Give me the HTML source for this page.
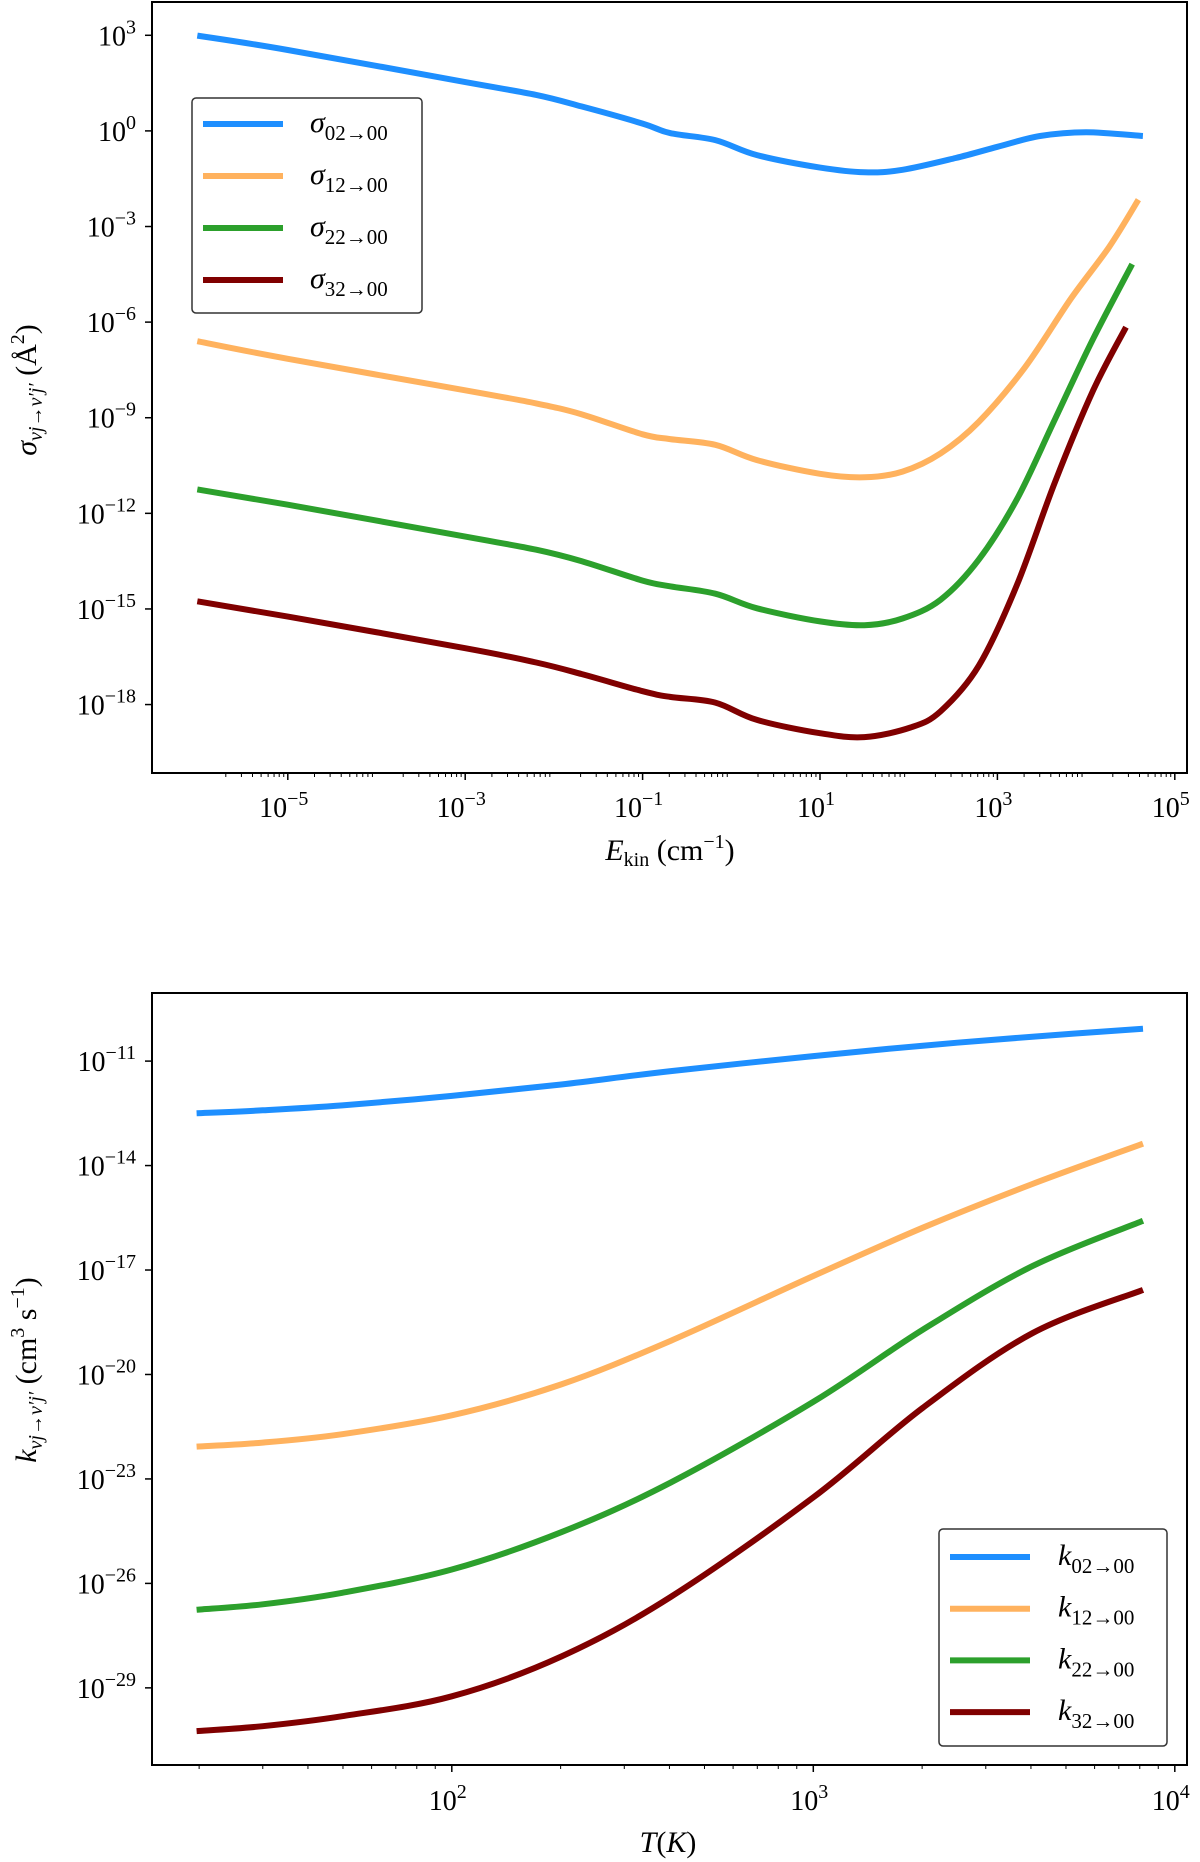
<!DOCTYPE html>
<html><head><meta charset="utf-8"><style>
html,body{margin:0;padding:0;background:#fff}
svg{display:block}
text{font-family:"Liberation Serif","DejaVu Serif",serif;fill:#000}
</style></head><body>
<svg id="fig" width="1200" height="1862" viewBox="0 0 1200 1862"></svg>
<script>
// ---- Top chart data (log10 values) ----
const topLogE = [-6.02,-5,-3,-2.2,-1.69,-1,-0.69,-0.18,0.29,1,1.5,1.93,2.53,3,3.48,4,4.64];
const sig02 = [2.99,2.54,1.53,1.13,0.77,0.23,-0.07,-0.29,-0.76,-1.15,-1.30,-1.22,-0.85,-0.50,-0.16,-0.04,-0.16];
const topLogE2 = [-6.02,-5,-3,-2.2,-1.69,-1,-0.69,-0.18,0.29,1,1.5,1.93,2.36,2.79,3.31,3.83,4.26,4.59];
const sig12 = [-6.6,-7.15,-8.14,-8.55,-8.89,-9.52,-9.67,-9.85,-10.33,-10.76,-10.87,-10.69,-10.12,-9.13,-7.42,-5.26,-3.64,-2.16];
const topLogE3 = [-6.02,-5,-3,-2.2,-1.69,-1,-0.69,-0.18,0.29,1,1.5,1.93,2.36,2.79,3.22,3.65,4.08,4.52];
const sig22 = [-11.25,-11.73,-12.73,-13.14,-13.5,-14.11,-14.29,-14.52,-14.98,-15.39,-15.51,-15.30,-14.71,-13.45,-11.56,-9.04,-6.52,-4.18];
const topLogE4 = [-6.02,-5,-3,-2.2,-1.69,-1,-0.69,-0.18,0.29,1,1.5,2.02,2.36,2.79,3.22,3.65,4.08,4.45];
const sig32 = [-14.76,-15.24,-16.23,-16.68,-17.04,-17.58,-17.76,-17.94,-18.48,-18.9,-19.02,-18.72,-18.21,-16.78,-14.25,-11.01,-8.14,-6.16];
const topXTicks = [-5,-3,-1,1,3,5];
const topYTicks = [3,0,-3,-6,-9,-12,-15,-18];
const topLabels = ["02","12","22","32"];

// ---- Bottom chart data (log10 values) ----
const botLogT = [1.294,1.477,1.697,2,2.303,2.606,3,3.303,3.606,3.912];
const k02 = [-12.5,-12.414,-12.271,-12.0,-11.671,-11.286,-10.857,-10.557,-10.3,-10.071];
const k12 = [-22.071,-21.957,-21.714,-21.171,-20.286,-19.029,-17.171,-15.786,-14.529,-13.371];
const k22 = [-26.757,-26.6,-26.271,-25.6,-24.529,-23.1,-20.786,-18.714,-16.886,-15.586];
const k32 = [-30.243,-30.1,-29.814,-29.243,-28.1,-26.386,-23.529,-20.957,-18.814,-17.571];
const botXTicks = [2,3,4];
const botYTicks = [-11,-14,-17,-20,-23,-26,-29];

const colors = ["#1e8fff","#ffb25e","#2ca02c","#800000"];
const NS = "http://www.w3.org/2000/svg";
const svg = document.getElementById('fig');
function mk(tag, attrs, parent){const e=document.createElementNS(NS,tag);for(const k in attrs)e.setAttribute(k,attrs[k]);(parent||svg).appendChild(e);return e;}

// axis functions
const tx = v => 820 + (v-1)*88.7;
const ty = v => 130.9 - v*31.87;
const bx = v => 451.8 + (v-2)*361.5;
const by = v => 1061.1 - (v+11)*34.82;

function smoothPath(xs, ys){
  const p = xs.map((x,i)=>[x,ys[i]]);
  let d = `M${p[0][0].toFixed(1)},${p[0][1].toFixed(1)}`;
  for(let i=0;i<p.length-1;i++){
    const p0=p[Math.max(i-1,0)],p1=p[i],p2=p[i+1],p3=p[Math.min(i+2,p.length-1)];
    const c1=[p1[0]+(p2[0]-p0[0])/6,p1[1]+(p2[1]-p0[1])/6];
    const c2=[p2[0]-(p3[0]-p1[0])/6,p2[1]-(p3[1]-p1[1])/6];
    d+=`C${c1[0].toFixed(1)},${c1[1].toFixed(1)} ${c2[0].toFixed(1)},${c2[1].toFixed(1)} ${p2[0].toFixed(1)},${p2[1].toFixed(1)}`;
  }
  return d;
}
function tickLabel(x,y,exp,anchor,g){
  const t=mk('text',{x:x,y:y,'font-size':28,'text-anchor':anchor},g);
  const a=document.createElementNS(NS,'tspan');a.textContent='10';t.appendChild(a);
  const b=document.createElementNS(NS,'tspan');b.setAttribute('dy','-12');b.setAttribute('font-size','20');
  b.textContent=(exp<0?'\u2212'+(-exp):''+exp);t.appendChild(b);
  return t;
}

// ===== Top chart =====
const gT = mk('g',{});


const topSeries=[[topLogE,sig02],[topLogE2,sig12],[topLogE3,sig22],[topLogE4,sig32]];
topSeries.forEach((s,i)=>{
  const p=mk('path',{d:smoothPath(s[0].map(tx),s[1].map(ty)),fill:'none',stroke:colors[i],'stroke-width':6,'stroke-linejoin':'round'},gT);
  
  
});
const fT=mk('rect',{x:152,y:2,width:1035,height:771,fill:'none',stroke:'#000','stroke-width':2},gT);


topXTicks.forEach(v=>{
  mk('line',{x1:tx(v),x2:tx(v),y1:773,y2:780,stroke:'#000','stroke-width':1.5},gT);
  const t=tickLabel(tx(v)-4,817,v,'middle',gT);
  
  
});
for(let d=-6;d<5;d++)for(let m=2;m<10;m++){const v=d+Math.log10(m);if(v>-6.3&&v<5.2)mk('line',{x1:tx(v),x2:tx(v),y1:773,y2:777,stroke:'#000','stroke-width':1},gT);}
topYTicks.forEach(v=>{
  mk('line',{x1:145,x2:152,y1:ty(v),y2:ty(v),stroke:'#000','stroke-width':1.5},gT);
  const t=tickLabel(136,ty(v)+10,v,'end',gT);
  
  
});
const xlT=mk('text',{x:670,y:860,'font-size':30,'text-anchor':'middle'},gT);
xlT.innerHTML='<tspan font-style="italic">E</tspan><tspan font-size="20" dy="6">kin</tspan><tspan dy="-6"> (cm</tspan><tspan font-size="20" dy="-12">\u22121</tspan><tspan dy="12">)</tspan>';


const ylT=mk('text',{x:0,y:0,'font-size':30,'text-anchor':'middle',transform:'translate(36,390) rotate(-90)'},gT);
ylT.innerHTML='<tspan font-style="italic">σ</tspan><tspan font-size="20" dy="6" font-style="italic">vj→v′j′</tspan><tspan dy="-6"> (Å</tspan><tspan font-size="20" dy="-12">2</tspan><tspan dy="12">)</tspan>';


const lgT=mk('g',{},gT);


mk('rect',{x:192,y:98,width:230,height:215,rx:4,fill:'#fff',stroke:'#333','stroke-width':1.5},lgT);
topLabels.forEach((l,i)=>{
  const y=124+i*52;
  const e=mk('g',{},lgT);
  
  
  mk('line',{x1:203,x2:283,y1:y,y2:y,stroke:colors[i],'stroke-width':6},e);
  const t=mk('text',{x:310,y:y+8,'font-size':30},e);
  t.innerHTML='<tspan font-style="italic">σ</tspan><tspan font-size="21" dy="8">'+l+'→00</tspan>';
});

// ===== Bottom chart =====
const gB = mk('g',{});


[k02,k12,k22,k32].forEach((s,i)=>{
  const p=mk('path',{d:smoothPath(botLogT.map(bx),s.map(by)),fill:'none',stroke:colors[i],'stroke-width':6,'stroke-linejoin':'round'},gB);
  
  
});
const fB=mk('rect',{x:152,y:993,width:1035,height:772,fill:'none',stroke:'#000','stroke-width':2},gB);


botXTicks.forEach(v=>{
  mk('line',{x1:bx(v),x2:bx(v),y1:1765,y2:1772,stroke:'#000','stroke-width':1.5},gB);
  const t=tickLabel(bx(v)-4,1810,v,'middle',gB);
  
  
});
for(let d=1;d<4;d++)for(let m=2;m<10;m++){const v=d+Math.log10(m);if(v>1.28&&v<4)mk('line',{x1:bx(v),x2:bx(v),y1:1765,y2:1769,stroke:'#000','stroke-width':1},gB);}
botYTicks.forEach(v=>{
  mk('line',{x1:145,x2:152,y1:by(v),y2:by(v),stroke:'#000','stroke-width':1.5},gB);
  const t=tickLabel(136,by(v)+10,v,'end',gB);
  
  
});
const xlB=mk('text',{x:668,y:1852,'font-size':30,'text-anchor':'middle'},gB);
xlB.innerHTML='<tspan font-style="italic">T</tspan>(<tspan font-style="italic">K</tspan>)';


const ylB=mk('text',{x:0,y:0,'font-size':30,'text-anchor':'middle',transform:'translate(36,1370) rotate(-90)'},gB);
ylB.innerHTML='<tspan font-style="italic">k</tspan><tspan font-size="20" dy="6" font-style="italic">vj→v′j′</tspan><tspan dy="-6"> (cm</tspan><tspan font-size="20" dy="-12">3</tspan><tspan dy="12"> s</tspan><tspan font-size="20" dy="-12">\u22121</tspan><tspan dy="12">)</tspan>';


const lgB=mk('g',{},gB);


mk('rect',{x:939,y:1529,width:228,height:217,rx:4,fill:'#fff',stroke:'#333','stroke-width':1.5},lgB);
topLabels.forEach((l,i)=>{
  const y=1557+i*51.7;
  const e=mk('g',{},lgB);
  
  
  mk('line',{x1:950,x2:1030,y1:y,y2:y,stroke:colors[i],'stroke-width':6},e);
  const t=mk('text',{x:1058,y:y+8,'font-size':30},e);
  t.innerHTML='<tspan font-style="italic">k</tspan><tspan font-size="21" dy="8">'+l+'→00</tspan>';
});
</script>
</body></html>
